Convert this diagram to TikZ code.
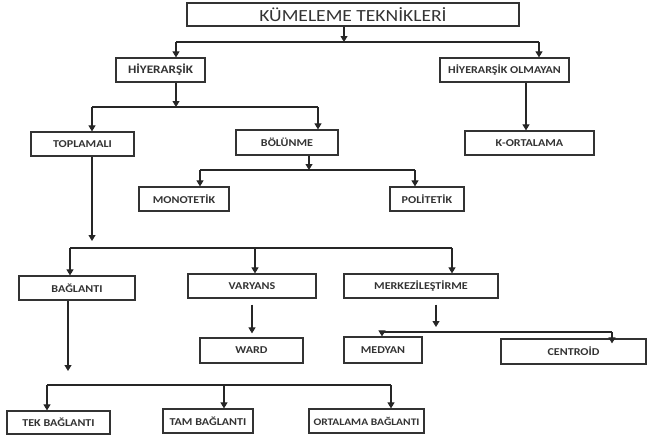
\documentclass[tikz,border=0pt]{standalone}
\usepackage{fontspec}
\setmainfont{Carlito}[FakeStretch=1.15]
\usetikzlibrary{arrows.meta}

\tikzset{
  box/.style={draw=black!80, line width=1.2pt, minimum height=24pt, inner sep=0pt,
    font=\bfseries\fontsize{10.5}{12}\selectfont, text=black!80},
  arr/.style={line width=1.1pt, draw=black!85, -{Triangle[width=7pt,length=6pt]}},
  bus/.style={line width=1.1pt, draw=black!85}
}

\begin{document}
\begin{tikzpicture}[x=1pt,y=-1pt]
    \useasboundingbox (0,0) rectangle (648,442);

    % Boxes
    \node[box, minimum width=332pt, minimum height=23pt, font=\fontsize{17}{20}\selectfont] (top) at (353,14.5) {KÜMELEME TEKNİKLERİ};
    \node[box, minimum width=89pt, font=\bfseries\fontsize{11.5}{13}\selectfont] (hier) at (160.5,70) {HİYERARŞİK};
    \node[box, minimum width=129pt] (nonhier) at (504.5,70) {HİYERARŞİK OLMAYAN};

    \node[box, minimum width=103pt] (toplamali) at (82.5,144) {TOPLAMALI};
    \node[box, minimum width=102pt, minimum height=25pt] (bolunme) at (287,142.5) {BÖLÜNME};
    \node[box, minimum width=129pt] (kort) at (529.5,143) {K-ORTALAMA};

    \node[box, minimum width=90pt] (mono) at (184,199) {MONOTETİK};
    \node[box, minimum width=74pt] (poli) at (427,199) {POLİTETİK};

    \node[box, minimum width=116pt] (baglanti) at (77,288) {BAĞLANTI};
    \node[box, minimum width=128pt] (varyans) at (252,286) {VARYANS};
    \node[box, minimum width=154pt] (merkez) at (421,286) {MERKEZİLEŞTİRME};

    \node[box, minimum width=103pt, minimum height=25pt] (ward) at (251.5,350.5) {WARD};
    \node[box, minimum width=78pt, minimum height=26pt] (medyan) at (383,350) {MEDYAN};
    \node[box, minimum width=145pt, minimum height=25pt] (centroid) at (573.5,351.5) {CENTROİD};

    \node[box, minimum width=103pt, minimum height=23pt] (tek) at (58.5,422.5) {TEK BAĞLANTI};
    \node[box, minimum width=90pt] (tam) at (208,421) {TAM BAĞLANTI};
    \node[box, minimum width=115pt, font=\bfseries\fontsize{10}{12}\selectfont] (ortbag) at (366.5,421) {ORTALAMA BAĞLANTI};

    % Kümeleme teknikleri
    \coordinate (j1) at (344,42);
    \coordinate (j1a) at (176,42);
    \coordinate (j1b) at (539,42);
    \draw[arr] (top.south -| j1) -- (j1);
    \draw[bus] (j1a) -- (j1b);
    \draw[arr] (j1a) -- (j1a |- hier.north);
    \draw[arr] (j1b) -- (j1b |- nonhier.north);

    % Hiyerarşik
    \coordinate (j2) at (176,107);
    \coordinate (j2a) at (92,107);
    \coordinate (j2b) at (318,107);
    \draw[arr] (hier.south -| j2) -- (j2);
    \draw[bus] (j2a) -- (j2b);
    \draw[arr] (j2a) -- (j2a |- toplamali.north);
    \draw[arr] (j2b) -- (j2b |- bolunme.north);
    \draw[arr] ([xshift=21.5pt]nonhier.south) -- ([xshift=-3.5pt]kort.north);

    % Bölünme
    \coordinate (j3) at (309,170);
    \coordinate (j3a) at (200,170);
    \coordinate (j3b) at (415,170);
    \draw[arr] (bolunme.south -| j3) -- (j3);
    \draw[bus] (j3a) -- (j3b);
    \draw[arr] (j3a) -- (j3a |- mono.north);
    \draw[arr] (j3b) -- (j3b |- poli.north);

    % Toplamalı
    \coordinate (j4) at (92,241);
    \coordinate (j4a) at (70,248);
    \coordinate (j4b) at (255,248);
    \coordinate (j4c) at (452,248);
    \draw[arr] (toplamali.south -| j4) -- (j4);
    \draw[bus] (j4a) -- (j4c);
    \draw[arr] (j4a) -- (j4a |- baglanti.north);
    \draw[arr] (j4b) -- (j4b |- varyans.north);
    \draw[arr] (j4c) -- (j4c |- merkez.north);

    % Bağlantı
    \coordinate (j5) at (68,371);
    \coordinate (j5a) at (47,385);
    \coordinate (j5b) at (224,385);
    \coordinate (j5c) at (391,385);
    \draw[arr] (baglanti.south -| j5) -- (j5);
    \draw[bus] (j5a) -- (j5c);
    \draw[arr] (j5a) -- (j5a |- tek.north);
    \draw[arr] (j5b) -- (j5b |- tam.north);
    \draw[arr] (j5c) -- (j5c |- ortbag.north);

    % Varyans
    \draw[arr] ([yshift=-6pt]varyans.south) -- ([yshift=4pt]varyans.south |- ward.north);

    % Merkezileştirme
    \coordinate (j6) at (436,327);
    \coordinate (j6a) at (382,332);
    \coordinate (j6b) at (612,332);
    \draw[arr] ([yshift=-6pt]merkez.south -| j6) -- (j6);
    \draw[bus] (j6a) -- (j6b);
    \draw[arr] (j6a) -- (j6a |- medyan.north);
    \draw[arr] (j6b) -- ([yshift=-5pt]j6b |- centroid.north);
\end{tikzpicture}
\end{document}
